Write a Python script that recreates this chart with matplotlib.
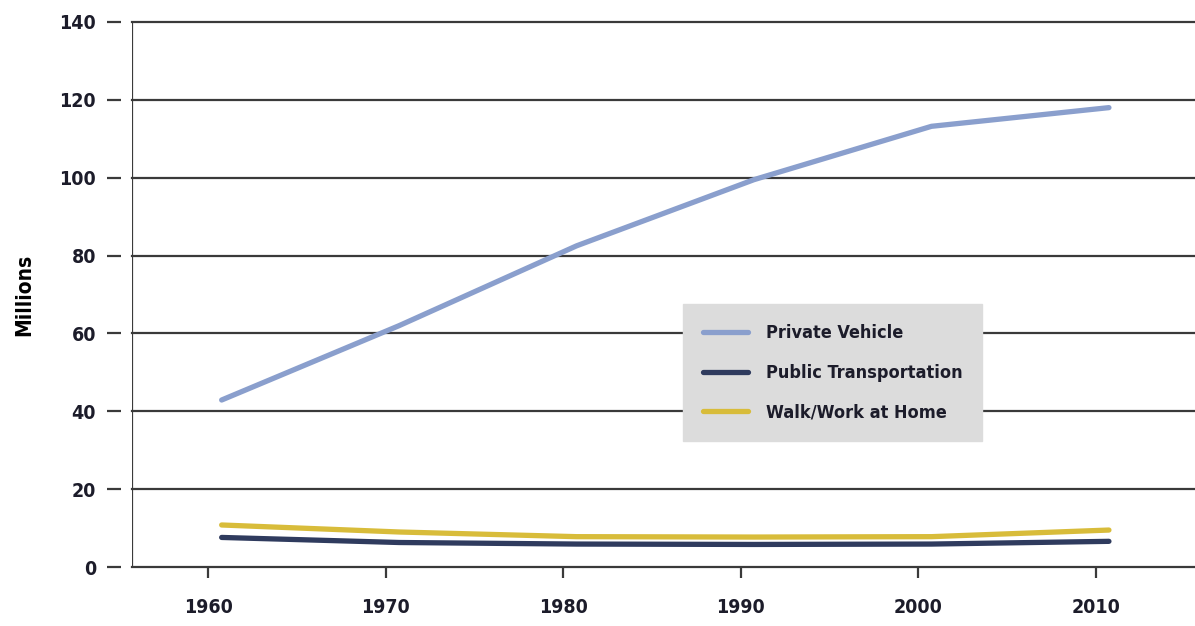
import matplotlib.pyplot as plt
import numpy as np

# data (millions of commuters)
years = [1960, 1970, 1980, 1990, 2000, 2010]
private_vehicle = [42.9, 62.0, 82.5, 99.5, 113.2, 118.0]
public_transport = [7.6, 6.3, 5.9, 5.8, 5.9, 6.6]
walk_home = [10.8, 9.0, 7.8, 7.7, 7.8, 9.5]
y_ticks = [0, 20, 40, 60, 80, 100, 120, 140]

# points sit a little right of the year ticks in the original
x_shift = 0.75

plt.rcParams['font.family'] = ['DejaVu Sans']
plt.rcParams['font.stretch'] = 'condensed'
txt_col = '#1c1c2a'

fig = plt.figure(figsize=(11.95, 6.26), dpi=100)
ax = fig.add_axes([0.1105, 0.0942, 0.8895, 0.8707])

xs = np.array(years) + x_shift
ax.plot(xs, private_vehicle, color='#8a9fcd', lw=3.8, solid_capstyle='round',
        label='Private Vehicle', zorder=4)
ax.plot(xs, public_transport, color='#2f3b5e', lw=3.8, solid_capstyle='round',
        label='Public Transportation', zorder=4)
ax.plot(xs, walk_home, color='#d8bc3a', lw=3.8, solid_capstyle='round',
        label='Walk/Work at Home', zorder=3)

ax.set_xlim(1955.7, 2015.6)
ax.set_ylim(0, 140)

# horizontal grid
for v in y_ticks[1:]:
    ax.axhline(v, color='#3a3a3a', lw=1.6, zorder=1, clip_on=False)
ax.axvline(1955.7, color='#3a3a3a', lw=1.6, zorder=2)

for s in ['top', 'right']:
    ax.spines[s].set_visible(False)
ax.spines['left'].set_position(('outward', 8))
ax.spines['left'].set_visible(False)
ax.spines['bottom'].set_color('#3a3a3a')
ax.spines['bottom'].set_linewidth(1.6)

ax.set_yticks(y_ticks)
ax.set_xticks(years)
ax.tick_params(axis='y', length=10, width=1.6, color='#3a3a3a', pad=8,
               labelsize=14, labelcolor=txt_col)
ax.tick_params(axis='x', length=8, width=1.6, color='#3a3a3a', pad=14,
               labelsize=14, labelcolor=txt_col)
for lab in ax.get_xticklabels() + ax.get_yticklabels():
    lab.set_fontweight('bold')
    lab.set_fontstretch('condensed')

ax.set_ylabel('Millions', fontsize=15, fontweight='bold', color='black')
ax.yaxis.set_label_coords(-0.092, 0.5)

leg = ax.legend(loc='upper left', bbox_to_anchor=(0.5095, 0.4985), frameon=True,
                fancybox=False, handlelength=2.5, handletextpad=1.0,
                borderpad=1.1, labelspacing=1.2, fontsize=13)
leg.get_frame().set_facecolor('#dcdcdc')
leg.get_frame().set_edgecolor('#dcdcdc')
leg.get_frame().set_alpha(1)
leg.set_zorder(5)
for t in leg.get_texts():
    t.set_fontweight('bold')
    t.set_fontstretch('condensed')
    t.set_color(txt_col)

fig.savefig('out.png', dpi=100, facecolor='white')
